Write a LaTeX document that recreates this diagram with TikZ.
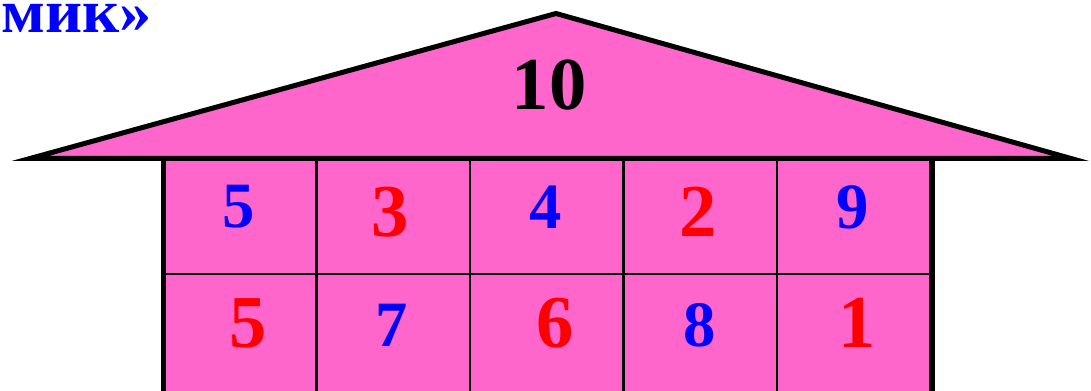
\documentclass[tikz,border=0pt]{standalone}
\usepackage{fontspec}
\setmainfont{Liberation Serif}
\definecolor{housepink}{RGB}{255,102,204}
\definecolor{numblue}{RGB}{0,0,255}
\definecolor{numred}{RGB}{255,0,0}
\begin{document}
\begin{tikzpicture}[x=0.75pt,y=-0.75pt,
  bignum/.style={inner sep=0pt,font=\bfseries\fontsize{56pt}{56pt}\selectfont},
  smallnum/.style={inner sep=0pt,font=\bfseries\fontsize{48.5pt}{48.5pt}\selectfont,text=numblue},
  rednum/.style={bignum,text=numred},
  wall/.style={line width=3.75pt},
  gridline/.style={line width=1.6pt}]
\useasboundingbox (0,0) rectangle (1091,391);
% title
\node[anchor=base west,inner sep=0pt,text=numblue,xscale=1.05,font=\bfseries\fontsize{46pt}{46pt}\selectfont] (title) at (1,33) {мик»};
% body
\fill[housepink] (163.5,158.5) rectangle (932,391);
% roof
\coordinate (rl) at (30,158.5);
\coordinate (rt) at (556,13.5);
\coordinate (rr) at (1071,158.5);
\fill[housepink] (rl) -- (rt) -- (rr) -- cycle;
\draw[wall,line join=miter,miter limit=10] (rl) -- (rt) -- (rr) -- cycle;
% grid
\foreach \x in {316.5,470,623.5,777}
  \draw[gridline] (\x,158.5) -- (\x,391);
\draw[gridline] (163.5,274) -- (932,274);
\draw[wall] (163.5,158.5) -- (163.5,393);
\draw[line width=4.5pt] (932,158.5) -- (932,393);
\draw[line width=3pt] (163.5,392.5) -- (932,392.5);
% numbers
\node[bignum] (ten) at (549,85) {10};
\node[smallnum] (a1) at (239,207) {5};
\node[rednum] (a2) at (390,212) {3};
\node[smallnum] (a3) at (546,207) {4};
\node[rednum] (a4) at (698,212) {2};
\node[smallnum] (a5) at (853,207) {9};
\node[rednum] (b1) at (248,323) {5};
\node[smallnum] (b2) at (392,325) {7};
\node[rednum] (b3) at (555,323) {6};
\node[smallnum] (b4) at (700,325) {8};
\node[rednum] (b5) at (857,323) {1};
\end{tikzpicture}
\end{document}
